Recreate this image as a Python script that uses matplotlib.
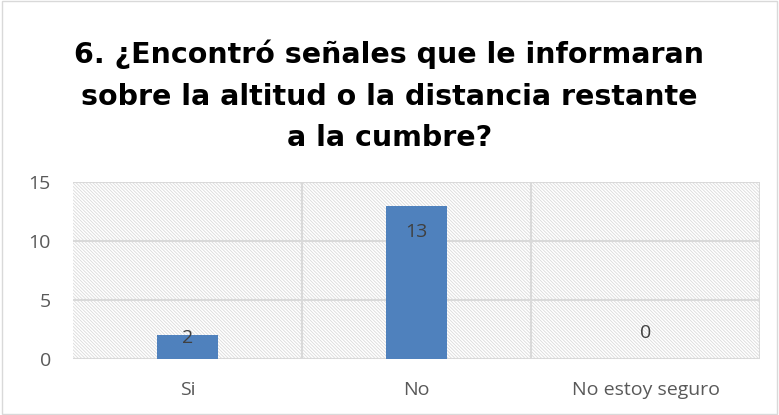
import matplotlib
matplotlib.use('Agg')
import matplotlib.pyplot as plt
import numpy as np

plt.rcParams['font.family'] = ['Open Sans', 'DejaVu Sans']
plt.rcParams['hatch.color'] = '#dadada'
plt.rcParams['hatch.linewidth'] = 0.6

categories = ['Si', 'No', 'No estoy seguro']
values = [2, 13, 0]
title = '6. ¿Encontró señales que le informaran\nsobre la altitud o la distancia restante\na la cumbre?'

fig = plt.figure(figsize=(7.79, 4.15), dpi=100)
fig.patches.append(plt.Rectangle((0.002, 0.003), 0.996, 0.994, transform=fig.transFigure,
                                  fill=False, edgecolor='#d9d9d9', linewidth=1))
ax = fig.add_axes([0.0937, 0.135, 0.882, 0.426])

x = np.arange(len(categories))
ax.set_xlim(-0.5, len(categories) - 0.5)
ax.set_ylim(0, 15)

# hatched background
ax.bar(x, [15] * len(x), width=1.0, color='white', hatch='\\' * 10, edgecolor='#dadada',
       linewidth=0, zorder=0)

for y in [5, 10, 15]:
    ax.axhline(y, color='#d9d9d9', linewidth=1.5, zorder=1)
for b in x[:-1] + 0.5:
    ax.axvline(b, color='#d9d9d9', linewidth=1.5, zorder=1)
ax.axvline(len(categories) - 0.5, color='#d9d9d9', linewidth=1.5, zorder=1)
ax.axhline(0, color='#d9d9d9', linewidth=1.5, zorder=1)

ax.bar(x, values, width=0.27, color='#4f81bd', zorder=2)

for xi, v in zip(x, values):
    if v >= 5:
        ty = v - 2.2
    elif v > 0:
        ty = v - 0.2
    else:
        ty = v + 2.2
    ax.text(xi, ty, str(v), ha='center', va='center', fontsize=14, color='#404040', zorder=3)

for s in ax.spines.values():
    s.set_visible(False)
ax.set_xticks(x)
ax.set_xticklabels(categories)
ax.set_yticks([0, 5, 10, 15])
ax.tick_params(length=0, labelsize=14, colors='#595959')
ax.tick_params(axis='x', pad=16)
ax.tick_params(axis='y', pad=16)

fig.text(0.5, 0.769, title, ha='center', va='center', fontsize=20.5, fontweight='bold',
         color='black', linespacing=1.62, family=['DejaVu Sans'])

fig.savefig('out.png', dpi=100)
